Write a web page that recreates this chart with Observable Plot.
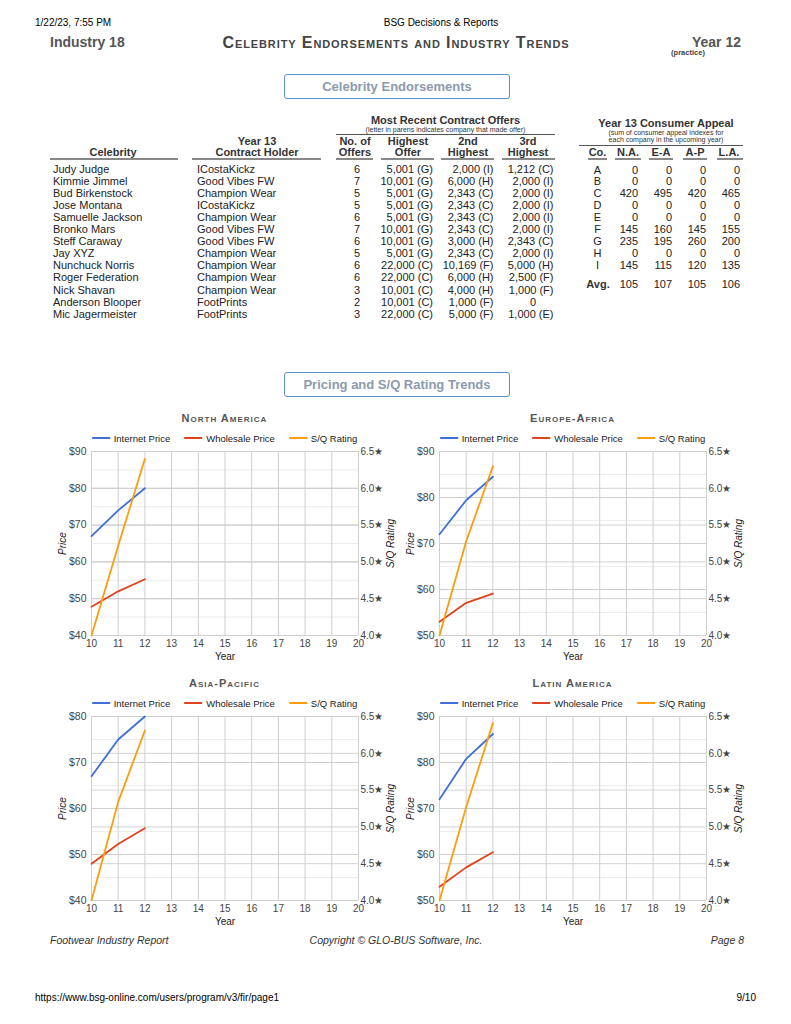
<!DOCTYPE html>
<html><head><meta charset="utf-8">
<script src="https://cdn.jsdelivr.net/npm/d3@7"></script>
<script src="https://cdn.jsdelivr.net/npm/@observablehq/plot@0.6"></script>
<style>
body{margin:0;background:#fff;font-family:Arial,"Liberation Sans",sans-serif;color:#222;}
#page{position:relative;width:791px;height:1024px;overflow:hidden;background:#fff;}
.t{position:absolute;white-space:nowrap;}
.hl{position:absolute;}
.box{position:absolute;border:1px solid #5a8fd4;border-radius:3px;box-sizing:border-box;text-align:center;color:#8d9aae;font-weight:bold;font-size:13px;}
.chart{position:absolute;}
.chart svg{background:transparent !important;overflow:visible;max-width:none !important;}
.legend{position:absolute;white-space:nowrap;font-size:9.5px;color:#222;transform:translateX(-50%);display:flex;align-items:center;}
.legend .sw{display:inline-block;width:18px;height:2px;margin-right:4px;}
.legend .it{display:flex;align-items:center;margin-right:14px;}
.legend .it:last-child{margin-right:0;}
</style></head>
<body><div id="page"></div>
<script>
// ---------- DATA ----------
const celebrities = ["Judy Judge","Kimmie Jimmel","Bud Birkenstock","Jose Montana","Samuelle Jackson","Bronko Mars","Steff Caraway","Jay XYZ","Nunchuck Norris","Roger Federation","Nick Shavan","Anderson Blooper","Mic Jagermeister"];
const contractHolders = ["ICostaKickz","Good Vibes FW","Champion Wear","ICostaKickz","Champion Wear","Good Vibes FW","Good Vibes FW","Champion Wear","Champion Wear","Champion Wear","Champion Wear","FootPrints","FootPrints"];
const numOffers = [6,7,5,5,6,7,6,5,6,6,3,2,3];
const offer1Amt = [5001,10001,5001,5001,5001,10001,10001,5001,22000,22000,10001,10001,22000];
const offer1Co  = ["G","G","G","G","G","G","G","G","C","C","C","C","C"];
const offer2Amt = [2000,6000,2343,2343,2343,2343,3000,2343,10169,6000,4000,1000,5000];
const offer2Co  = ["I","H","C","C","C","C","H","C","F","H","H","F","F"];
const offer3Amt = [1212,2000,2000,2000,2000,2000,2343,2000,5000,2500,1000,0,1000];
const offer3Co  = ["C","I","I","I","I","I","C","I","H","F","F","","E"];

const companies = ["A","B","C","D","E","F","G","H","I"];
const appealHeaders = ["N.A.","E-A","A-P","L.A."];
const appealNA = [0,0,420,0,0,145,235,0,145];
const appealEA = [0,0,495,0,0,160,195,0,115];
const appealAP = [0,0,420,0,0,145,260,0,120];
const appealLA = [0,0,465,0,0,155,200,0,135];
const appealAvg = [105,107,105,106];

const years = [10,11,12];
const yearTicks = [10,11,12,13,14,15,16,17,18,19,20];
const seriesNames = ["Internet Price","Wholesale Price","S/Q Rating"];
const seriesColors = ["#3f6fd8","#e0421e","#ff9c0c"];
const sqTicks = [4.0,4.5,5.0,5.5,6.0,6.5];

const naInternet = [67,74,80];
const naWholesale = [47.8,52,55.3];
const naSQ = [4.0,5.22,6.40];
const naPriceTicks = [40,50,60,70,80,90];

const eaInternet = [72,79.4,84.5];
const eaWholesale = [53,57.1,59.1];
const eaSQ = [4.0,5.28,6.30];
const eaPriceTicks = [50,60,70,80,90];

const apInternet = [67,75,80];
const apWholesale = [48,52.3,55.7];
const apSQ = [4.0,5.34,6.31];
const apPriceTicks = [40,50,60,70,80];

const laInternet = [72,80.8,86.2];
const laWholesale = [53,57.2,60.5];
const laSQ = [4.0,5.27,6.41];
const laPriceTicks = [50,60,70,80,90];

// ---------- HELPERS ----------
const page = document.getElementById("page");
function txt(x, y, s, o = {}) {
  const d = document.createElement("div");
  d.className = "t";
  d.textContent = s;
  const size = o.size || 11;
  Object.assign(d.style, {
    left: x + "px", top: (y - size / 2) + "px", fontSize: size + "px", lineHeight: size + "px",
    fontWeight: o.weight || "normal", color: o.color || "#222",
    fontStyle: o.italic ? "italic" : "normal", fontVariant: o.sc ? "small-caps" : "normal",
    letterSpacing: (o.ls || 0) + "px"
  });
  const a = o.anchor || "start";
  d.style.transform = a === "middle" ? "translateX(-50%)" : a === "end" ? "translateX(-100%)" : "";
  page.appendChild(d);
  return d;
}
function hline(x1, x2, y, th, color) {
  const d = document.createElement("div");
  d.className = "hl";
  Object.assign(d.style, {left: x1 + "px", top: y + "px", width: (x2 - x1) + "px", height: th + "px", background: color});
  page.appendChild(d);
}
function box(x, y, w, h, s) {
  const d = document.createElement("div");
  d.className = "box";
  Object.assign(d.style, {left: x + "px", top: y + "px", width: w + "px", height: h + "px", lineHeight: (h - 2) + "px"});
  d.textContent = s;
  page.appendChild(d);
}
const fmt = d3.format(",");

// ---------- PAGE HEADER ----------
txt(35, 23, "1/22/23, 7:55 PM", {size: 10, color: "#000"});
txt(441, 23, "BSG Decisions & Reports", {size: 10, color: "#000", anchor: "middle"});
txt(50, 42, "Industry 18", {size: 14, weight: "bold", color: "#555"});
txt(396, 43, "Celebrity Endorsements and Industry Trends", {size: 16, weight: "bold", color: "#444", sc: true, ls: 0.9, anchor: "middle"});
txt(741, 42, "Year 12", {size: 14, weight: "bold", color: "#555", anchor: "end"});
txt(688, 53, "(practice)", {size: 7.5, weight: "bold", color: "#444", anchor: "middle"});

// ---------- CELEBRITY TABLE ----------
box(284, 74, 226, 25, "Celebrity Endorsements");
txt(445.5, 120.5, "Most Recent Contract Offers", {size: 11, weight: "bold", color: "#333", anchor: "middle"});
txt(445.5, 129.5, "(letter in parens indicates company that made offer)", {size: 7, color: "#333", anchor: "middle"});
hline(336, 555, 133.5, 1, "#555");
const hdr = {size: 11, weight: "bold", color: "#333", anchor: "middle"};
txt(113, 152.5, "Celebrity", hdr);
txt(257, 141, "Year 13", hdr); txt(257, 152.5, "Contract Holder", hdr);
txt(355, 141, "No. of", hdr); txt(355, 152.5, "Offers", hdr);
txt(408, 141, "Highest", hdr); txt(408, 152.5, "Offer", hdr);
txt(468, 141, "2nd", hdr); txt(468, 152.5, "Highest", hdr);
txt(528, 141, "3rd", hdr); txt(528, 152.5, "Highest", hdr);
[[50,178],[192,321],[336,373],[381,434],[441,494],[502,555]].forEach(([a,b]) => hline(a, b, 158, 1.5, "#888"));
const offerStr = (amt, co) => co ? `${fmt(amt)} (${co})` : fmt(amt);
celebrities.forEach((name, i) => {
  const y = 169 + i * 12.1;
  txt(53, y, name, {size: 11});
  txt(197, y, contractHolders[i], {size: 11});
  txt(357, y, String(numOffers[i]), {size: 11, anchor: "middle"});
  txt(433, y, offerStr(offer1Amt[i], offer1Co[i]), {size: 11, anchor: "end"});
  txt(493.5, y, offerStr(offer2Amt[i], offer2Co[i]), {size: 11, anchor: "end"});
  if (offer3Co[i]) txt(553.5, y, offerStr(offer3Amt[i], offer3Co[i]), {size: 11, anchor: "end"});
  else txt(533, y, fmt(offer3Amt[i]), {size: 11, anchor: "middle"});
});

// ---------- CONSUMER APPEAL ----------
txt(666, 123.5, "Year 13 Consumer Appeal", {size: 11, weight: "bold", color: "#333", anchor: "middle"});
txt(666, 132.5, "(sum of consumer appeal indexes for", {size: 7, color: "#333", anchor: "middle"});
txt(666, 139.3, "each company in the upcoming year)", {size: 7, color: "#333", anchor: "middle"});
hline(579, 743, 144.5, 1, "#555");
const apHdr = {size: 11, weight: "bold", color: "#333", anchor: "middle"};
txt(597.5, 152.5, "Co.", apHdr);
const apCenters = [628, 661, 695, 729];
const apRights = [638, 672, 706, 740];
appealHeaders.forEach((h, j) => txt(apCenters[j], 152.5, h, apHdr));
[[588,607],[615,641],[649,673],[683,707],[717,743]].forEach(([a,b]) => hline(a, b, 158, 1.5, "#888"));
const appealCols = [appealNA, appealEA, appealAP, appealLA];
companies.forEach((c, i) => {
  const y = 170 + i * 11.96;
  txt(597.5, y, c, {size: 11, anchor: "middle"});
  appealCols.forEach((col, j) => txt(apRights[j], y, String(col[i]), {size: 11, anchor: "end"}));
});
txt(598, 284, "Avg.", {size: 11, weight: "bold", color: "#333", anchor: "middle"});
appealAvg.forEach((v, j) => txt(apRights[j], 284, String(v), {size: 11, anchor: "end"}));

// ---------- CHARTS ----------
box(284, 372, 226, 25, "Pricing and S/Q Rating Trends");

const PW = 267, PH = 184, ML = 48, MR = 44, MT = 8, MB = 30;
function chart(o) {
  const p0 = o.priceTicks[0], p1 = o.priceTicks[o.priceTicks.length - 1];
  const s0 = sqTicks[0], s1 = sqTicks[sqTicks.length - 1];
  const toP = s => p0 + (s - s0) * (p1 - p0) / (s1 - s0);
  const fromP = p => s0 + (p - p0) * (s1 - s0) / (p1 - p0);
  const data = [];
  [o.internet, o.wholesale].forEach((arr, k) => years.forEach((yr, i) => data.push({year: yr, value: arr[i], series: seriesNames[k]})));
  years.forEach((yr, i) => data.push({year: yr, value: toP(o.sq[i]), series: seriesNames[2]}));
  const minor = o.priceTicks.slice(0, -1).map(t => t + 5);
  const sqPos = sqTicks.map(toP);
  const svg = Plot.plot({
    width: ML + PW + MR, height: MT + PH + MB,
    marginLeft: ML, marginRight: MR, marginTop: MT, marginBottom: MB,
    style: {fontFamily: "Arial, 'Liberation Sans', sans-serif", fontSize: "10.5px", color: "#444", background: "transparent", overflow: "visible"},
    x: {domain: [10, 20]},
    y: {domain: [p0, p1]},
    color: {domain: seriesNames, range: seriesColors},
    marks: [
      Plot.gridY(minor, {stroke: "#ececec", strokeOpacity: 1}),
      Plot.gridY(sqPos, {stroke: "#d2d2d2", strokeOpacity: 1}),
      Plot.gridY(o.priceTicks, {stroke: "#cfcfcf", strokeOpacity: 1}),
      Plot.gridX(yearTicks, {stroke: "#cfcfcf", strokeOpacity: 1}),
      Plot.axisX(yearTicks, {tickSize: 0, tickPadding: 4, fontSize: 10, label: null}),
      Plot.axisY(o.priceTicks, {anchor: "left", tickSize: 0, tickPadding: 5, tickFormat: d => "$" + d, label: null}),
      Plot.axisY(sqPos, {anchor: "right", tickSize: 0, tickPadding: 2, fontSize: 10, tickFormat: p => fromP(p).toFixed(1) + "★", label: null}),
      Plot.text(["Year"], {text: d => d, frameAnchor: "bottom", lineAnchor: "middle", textAnchor: "middle", dy: 21, fill: "#222", fontSize: 10}),
      Plot.text(["Price"], {text: d => d, frameAnchor: "left", textAnchor: "middle", lineAnchor: "middle", dx: -29, rotate: -90, fontStyle: "italic", fill: "#222", fontSize: 10}),
      Plot.text(["S/Q Rating"], {text: d => d, frameAnchor: "right", textAnchor: "middle", lineAnchor: "middle", dx: 32, rotate: -90, fontStyle: "italic", fill: "#222", fontSize: 10}),
      Plot.line(data, {x: "year", y: "value", stroke: "series", z: "series", strokeWidth: 1.8})
    ]
  });
  const wrap = document.createElement("div");
  wrap.className = "chart";
  Object.assign(wrap.style, {left: (o.plotLeft - ML) + "px", top: (o.plotTop - MT) + "px", width: (ML + PW + MR) + "px"});
  wrap.appendChild(svg);
  page.appendChild(wrap);
  const cx = o.plotLeft + PW / 2;
  txt(cx, o.plotTop - 33, o.title, {size: 11, weight: "bold", color: "#555", sc: true, ls: 1, anchor: "middle"});
  const lg = document.createElement("div");
  lg.className = "legend";
  Object.assign(lg.style, {left: cx + "px", top: (o.plotTop - 18) + "px", height: "10px"});
  seriesNames.forEach((n, k) => {
    const it = document.createElement("span"); it.className = "it";
    const sw = document.createElement("span"); sw.className = "sw"; sw.style.background = seriesColors[k];
    it.appendChild(sw); it.appendChild(document.createTextNode(n));
    lg.appendChild(it);
  });
  page.appendChild(lg);
}

chart({title: "North America", plotLeft: 91, plotTop: 451, priceTicks: naPriceTicks, internet: naInternet, wholesale: naWholesale, sq: naSQ});
chart({title: "Europe-Africa", plotLeft: 439, plotTop: 451, priceTicks: eaPriceTicks, internet: eaInternet, wholesale: eaWholesale, sq: eaSQ});
chart({title: "Asia-Pacific", plotLeft: 91, plotTop: 716, priceTicks: apPriceTicks, internet: apInternet, wholesale: apWholesale, sq: apSQ});
chart({title: "Latin America", plotLeft: 439, plotTop: 716, priceTicks: laPriceTicks, internet: laInternet, wholesale: laWholesale, sq: laSQ});

// ---------- FOOTER ----------
txt(50, 940, "Footwear Industry Report", {size: 10.5, italic: true, color: "#333"});
txt(396, 940, "Copyright © GLO-BUS Software, Inc.", {size: 10.5, italic: true, color: "#333", anchor: "middle"});
txt(744, 940, "Page 8", {size: 10.5, italic: true, color: "#333", anchor: "end"});
txt(35, 998, "https://www.bsg-online.com/users/program/v3/fir/page1", {size: 10, color: "#000"});
txt(756, 998, "9/10", {size: 10, color: "#000", anchor: "end"});
</script>
</body></html>
